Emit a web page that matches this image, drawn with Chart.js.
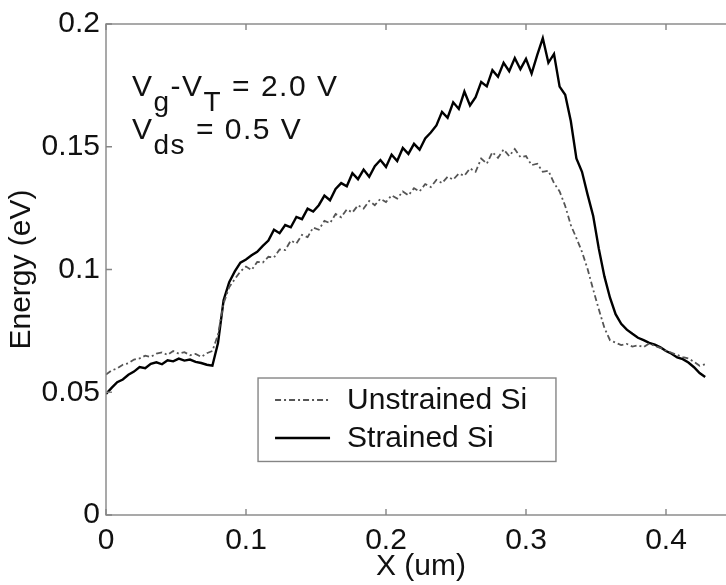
<!DOCTYPE html>
<html>
<head>
<meta charset="utf-8">
<script src="https://cdn.jsdelivr.net/npm/chart.js@4.4.1/dist/chart.umd.min.js"></script>
<style>
  html, body { margin: 0; padding: 0; background: #fff; overflow: hidden; }
  #wrap { width: 740px; height: 585px; position: relative; }
</style>
</head>
<body>
<div id="wrap"><canvas id="energy-canvas"></canvas></div>
<script>
// positions along the channel (um)
const xPos = [
  0.000, 0.004, 0.008, 0.012, 0.016, 0.020, 0.024, 0.028, 0.032, 0.036,
  0.040, 0.044, 0.048, 0.052, 0.056, 0.060, 0.064, 0.068, 0.072, 0.076,
  0.080, 0.084, 0.088, 0.092, 0.096, 0.100, 0.104, 0.108, 0.112, 0.116,
  0.120, 0.124, 0.128, 0.132, 0.136, 0.140, 0.144, 0.148, 0.152, 0.156,
  0.160, 0.164, 0.168, 0.172, 0.176, 0.180, 0.184, 0.188, 0.192, 0.196,
  0.200, 0.204, 0.208, 0.212, 0.216, 0.220, 0.224, 0.228, 0.232, 0.236,
  0.240, 0.244, 0.248, 0.252, 0.256, 0.260, 0.264, 0.268, 0.272, 0.276,
  0.280, 0.284, 0.288, 0.292, 0.296, 0.300, 0.304, 0.308, 0.312, 0.316,
  0.320, 0.324, 0.328, 0.332, 0.336, 0.340, 0.344, 0.348, 0.352, 0.356,
  0.360, 0.364, 0.368, 0.372, 0.376, 0.380, 0.384, 0.388, 0.392, 0.396,
  0.400, 0.404, 0.408, 0.412, 0.416, 0.420, 0.424, 0.428
];

// energy (eV), unstrained Si
const unstrainedSi = [
  0.0572, 0.0589, 0.0597, 0.0612, 0.0618, 0.0633, 0.0638, 0.0649, 0.0644, 0.0657,
  0.0662, 0.0652, 0.0668, 0.0657, 0.0663, 0.0651, 0.0656, 0.0644, 0.0659, 0.0668,
  0.0735, 0.0862, 0.0928, 0.0961, 0.0992, 0.1012, 0.0998, 0.1031, 0.1028, 0.1052,
  0.1049, 0.1082, 0.1079, 0.1118, 0.1106, 0.1141, 0.1132, 0.1171, 0.1162, 0.1198,
  0.1189, 0.1226, 0.1213, 0.1245, 0.1232, 0.1262, 0.1248, 0.1279, 0.1262, 0.1288,
  0.1275, 0.1302, 0.1289, 0.1318, 0.1302, 0.1331, 0.1318, 0.1348, 0.1336, 0.1365,
  0.1352, 0.1378, 0.1366, 0.1391, 0.1382, 0.1412, 0.1398, 0.1452, 0.1431, 0.1478,
  0.1455, 0.1489, 0.1462, 0.1491, 0.1458, 0.1462, 0.1425, 0.1431, 0.1398, 0.1402,
  0.1352, 0.1318, 0.1259, 0.1181, 0.1128, 0.1072, 0.1002, 0.0918, 0.0838, 0.0762,
  0.0712, 0.0702, 0.0692, 0.0697, 0.0686, 0.0691, 0.0684, 0.0699, 0.0688, 0.0681,
  0.0669, 0.0661, 0.0652, 0.0643, 0.0638, 0.0624, 0.0608, 0.0614
];

// energy (eV), strained Si
const strainedSi = [
  0.0493, 0.0518, 0.0541, 0.0552, 0.0571, 0.0584, 0.0603, 0.0598, 0.0616, 0.0622,
  0.0614, 0.0630, 0.0626, 0.0637, 0.0629, 0.0633, 0.0624, 0.0619, 0.0612, 0.0608,
  0.0700, 0.0875, 0.0948, 0.0992, 0.1028, 0.1041, 0.1058, 0.1072, 0.1096, 0.1118,
  0.1162, 0.1148, 0.1181, 0.1172, 0.1214, 0.1205, 0.1248, 0.1236, 0.1262, 0.1301,
  0.1282, 0.1328, 0.1352, 0.1339, 0.1392, 0.1368, 0.1407, 0.1378, 0.1421, 0.1446,
  0.1418, 0.1468, 0.1442, 0.1495, 0.1471, 0.1512, 0.1488, 0.1534, 0.1558, 0.1587,
  0.1642, 0.1618, 0.1681, 0.1654, 0.1725, 0.1668, 0.1702, 0.1764, 0.1746, 0.1812,
  0.1785, 0.1842, 0.1808, 0.1861, 0.1816, 0.1858, 0.1798, 0.1873, 0.1942, 0.1842,
  0.1878, 0.1745, 0.1712, 0.1605, 0.1452, 0.1398, 0.1305, 0.1218, 0.1085, 0.0972,
  0.0885, 0.0818, 0.0779, 0.0755, 0.0738, 0.0722, 0.0712, 0.0701, 0.0694, 0.0683,
  0.0668, 0.0657, 0.0642, 0.0635, 0.0621, 0.0602, 0.0578, 0.0562
];

const seriesNames = ['Unstrained Si', 'Strained Si'];
const xTicks = [0, 0.1, 0.2, 0.3, 0.4];
const xTickLabels = ['0', '0.1', '0.2', '0.3', '0.4'];
const yTicks = [0, 0.05, 0.1, 0.15, 0.2];
const yTickLabels = ['0', '0.05', '0.1', '0.15', '0.2'];

const FONT = 'Liberation Sans, Arial, Helvetica, sans-serif';
const AXIS_GREY = '#858585';
const UNSTRAINED_DASH = [6, 3, 2, 3];

function toPoints(ys) {
  return xPos.map((x, i) => ({ x: x, y: ys[i] }));
}

// box round the plot with inward ticks, like the matlab axes
const boxPlugin = {
  id: 'boxPlugin',
  afterDraw(chart) {
    const { ctx, chartArea: a, scales } = chart;
    const len = 6;
    ctx.save();
    ctx.strokeStyle = AXIS_GREY;
    ctx.lineWidth = 1.4;
    ctx.strokeRect(a.left, a.top, a.right - a.left, a.bottom - a.top);
    ctx.beginPath();
    xTicks.forEach(v => {
      const px = scales.x.getPixelForValue(v);
      ctx.moveTo(px, a.bottom); ctx.lineTo(px, a.bottom - len);
      ctx.moveTo(px, a.top); ctx.lineTo(px, a.top + len);
    });
    yTicks.forEach(v => {
      const py = scales.y.getPixelForValue(v);
      ctx.moveTo(a.left, py); ctx.lineTo(a.left + len, py);
      ctx.moveTo(a.right, py); ctx.lineTo(a.right - len, py);
    });
    ctx.stroke();
    ctx.restore();
  }
};

// bias conditions text and the boxed legend
const notesPlugin = {
  id: 'notesPlugin',
  afterDraw(chart) {
    const { ctx, scales } = chart;
    const sx = scales.x, sy = scales.y;
    const big = '30px ' + FONT;
    const small = '28px ' + FONT;

    function run(parts, x, y) {
      parts.forEach(p => {
        ctx.font = p.sub ? small : big;
        ctx.fillText(p.t, x, y + (p.sub ? 15 : 0));
        x += ctx.measureText(p.t).width;
      });
    }

    ctx.save();
    ctx.fillStyle = '#111';
    ctx.textBaseline = 'alphabetic';
    ctx.letterSpacing = '1.5px';
    const x0 = sx.getPixelForValue(0.0186);
    run([{ t: 'V' }, { t: 'g', sub: true }, { t: '-V' }, { t: 'T', sub: true }, { t: ' = 2.0 V' }],
      x0, sy.getPixelForValue(0.1705));
    run([{ t: 'V' }, { t: 'ds', sub: true }, { t: ' = 0.5 V' }],
      x0, sy.getPixelForValue(0.1531));
    ctx.letterSpacing = '0px';

    // legend box
    const lx1 = sx.getPixelForValue(0.1086), lx2 = sx.getPixelForValue(0.3214);
    const ly1 = sy.getPixelForValue(0.0558), ly2 = sy.getPixelForValue(0.0218);
    ctx.fillStyle = '#fff';
    ctx.fillRect(lx1, ly1, lx2 - lx1, ly2 - ly1);
    ctx.strokeStyle = AXIS_GREY;
    ctx.lineWidth = 1.4;
    ctx.strokeRect(lx1, ly1, lx2 - lx1, ly2 - ly1);

    const rows = [ly1 + 22, ly1 + 60];
    ctx.lineWidth = 1.8;
    ctx.strokeStyle = '#555';
    ctx.setLineDash(UNSTRAINED_DASH);
    ctx.beginPath(); ctx.moveTo(lx1 + 17, rows[0]); ctx.lineTo(lx1 + 72, rows[0]); ctx.stroke();
    ctx.setLineDash([]);
    ctx.strokeStyle = '#000';
    ctx.lineWidth = 2.4;
    ctx.beginPath(); ctx.moveTo(lx1 + 17, rows[1]); ctx.lineTo(lx1 + 72, rows[1]); ctx.stroke();

    ctx.fillStyle = '#111';
    ctx.font = '30px ' + FONT;
    ctx.textBaseline = 'middle';
    ctx.fillText(seriesNames[0], lx1 + 89, rows[0] + 1);
    ctx.fillText(seriesNames[1], lx1 + 89, rows[1] + 1);
    ctx.restore();
  }
};

const ctx = document.getElementById('energy-canvas').getContext('2d');

new Chart(ctx, {
  type: 'line',
  data: {
    datasets: [{
      label: seriesNames[0],
      data: toPoints(unstrainedSi),
      borderColor: '#555',
      borderWidth: 1.8,
      borderDash: UNSTRAINED_DASH,
      pointRadius: 0,
      tension: 0,
      fill: false
    }, {
      label: seriesNames[1],
      data: toPoints(strainedSi),
      borderColor: '#000',
      borderWidth: 2.4,
      pointRadius: 0,
      tension: 0,
      fill: false
    }]
  },
  options: {
    responsive: true,
    maintainAspectRatio: false,
    devicePixelRatio: 1,
    animation: false,
    layout: { padding: { top: 20, right: 4, left: 0, bottom: 0 } },
    plugins: {
      legend: { display: false },
      tooltip: { enabled: false }
    },
    scales: {
      x: {
        type: 'linear',
        min: 0,
        max: 0.45,
        grid: { display: false, drawTicks: false },
        border: { display: false },
        afterBuildTicks: (scale) => { scale.ticks = xTicks.map(v => ({ value: v })); },
        afterFit: (scale) => { scale.height = 70; },
        ticks: {
          color: '#111',
          padding: 8,
          maxRotation: 0,
          font: { family: FONT, size: 30 },
          callback: (v, i) => xTickLabels[i]
        },
        title: {
          display: true,
          text: 'X (um)',
          color: '#111',
          font: { family: FONT, size: 30 },
          padding: { top: 0, bottom: 0 }
        }
      },
      y: {
        min: 0,
        max: 0.2,
        grid: { display: false, drawTicks: false },
        border: { display: false },
        afterBuildTicks: (scale) => { scale.ticks = yTicks.map(v => ({ value: v })); },
        afterFit: (scale) => { scale.width = 106; },
        ticks: {
          color: '#111',
          padding: 6,
          font: { family: FONT, size: 30 },
          callback: (v, i) => yTickLabels[i]
        },
        title: {
          display: true,
          text: 'Energy (eV)',
          color: '#111',
          font: { family: FONT, size: 30 },
          padding: { top: 4, bottom: 0 }
        }
      }
    }
  },
  plugins: [boxPlugin, notesPlugin]
});
</script>
</body>
</html>
